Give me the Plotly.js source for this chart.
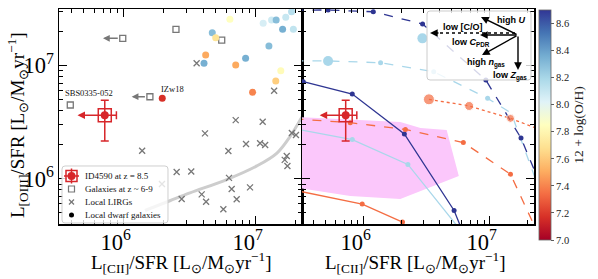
<!DOCTYPE html>
<html><head><meta charset="utf-8">
<script src="https://cdn.plot.ly/plotly-3.0.1.min.js"></script>
<style>html,body{margin:0;padding:0;background:#fff}#chart{width:598px;height:279px}</style>
</head><body><div id="chart"></div>
<script>
// ---------------- data ----------------
// Local LIRGs
const lirgX = [3.57e6,1.38e7,7.06e6,1.13e7,4.13e6,1.88e7,2.02e7,1.38e6,8.45e6,1.08e7,1.18e7,6.21e6,1.72e7,1.66e7,1.74e7,2.52e6,3.25e6,6.28e6,1.95e6,6.58e6,9.06e6,3.90e6,2.75e6,7.18e6,4.21e6,5.69e6];
const lirgY = [1.05e7,6.0e6,3.30e6,3.19e6,2.52e6,2.54e6,2.44e6,1.77e6,2.03e6,2.06e6,1.99e6,1.76e6,1.59e6,1.47e6,1.30e6,1.15e6,1.16e6,1.02e6,9.0e5,8.13e5,8.41e5,7.29e5,6.64e5,6.59e5,6.28e5,5.38e5];
// Local dwarf galaxies (last one = IZw18)
const dwarfX  = [6.38e6,4.69e6,4.98e6,4.18e6,4.06e6,1.14e7,1.32e7,1.43e7,1.69e7,1.87e7,1.60e7,1.93e7,1.26e7,8.39e6,7.06e6,1.55e7,1.42e7,9.48e6,1.96e6];
const dwarfY  = [2.57e7,1.95e7,1.76e7,1.24e7,1.05e7,2.37e7,2.53e7,2.53e7,2.67e7,2.99e7,2.09e7,2.09e7,1.49e7,1.16e7,1.01e7,9.02e6,7.31e6,5.81e6,5.14e6];
const dwarfOH = [7.85,8.30,7.70,7.50,8.35,8.05,8.08,8.30,8.10,8.15,8.35,8.12,8.30,8.35,7.50,7.83,7.62,7.40,7.17];
// Galaxies at z ~ 6-9 (limTip = upper limit on x, arrow tip)
const hzX = [9.84e5,2.49e6,1.58e6,3.94e5,5.53e6];
const hzY = [1.74e7,2.09e7,5.31e6,4.49e6,1.68e7];
const hzLimTip = [6.97e5,null,1.15e6,null,null];
// ID4590
const idX = [7.19e5], idY = [3.65e6];
const idXerrPlus = [1.62e5];
const idYerrPlus = [1.30e6], idYerrMinus = [1.49e6];
const idXlimTip = [4.47e5];
// grey curve (left panel)
const curveX = [1.45e6,2.24e6,3.18e6,6.17e6,1.02e7,1.45e7,1.82e7,2.24e7];
const curveY = [5.25e5,6.40e5,7.50e5,9.96e5,1.30e6,1.69e6,2.36e6,3.52e6];
// model tracks (right panel)
const dbSolidX = [3.31e5,8.11e5,2.10e6,5.21e6,6.11e6];
const dbSolidY = [7.21e6,5.61e6,2.49e6,5.25e5,3.39e5];
const lbSolidX = [2.82e5,8.11e5,2.24e6,6.11e6];
const lbSolidY = [2.77e6,2.22e6,1.34e6,3.32e5];
const orSolidX = [2.82e5,9.72e5,2.03e6];
const orSolidY = [7.93e5,5.98e5,4.15e5];
const dbDashX = [2.82e5,5.21e5,1.19e6,2.93e6,9.31e6,1.77e7,2.29e7,2.56e7];
const dbDashY = [3.09e7,3.10e7,2.99e7,2.33e7,7.46e6,2.29e6,1.15e6,7.96e5];
const lbDashX = [2.82e5,5.21e5,1.36e6,3.59e6,9.62e6,1.48e7,2.13e7,2.47e7];
const lbDashY = [1.10e7,1.10e7,1.06e7,8.83e6,5.14e6,3.81e6,1.27e6,7.96e5];
const orDashX = [2.82e5,7.81e5,2.14e6,6.17e6,1.46e7,2.21e7,2.38e7];
const orDashY = [3.39e6,3.13e6,2.73e6,2.09e6,1.10e6,4.15e5,3.39e5];
const orDotX = [3.29e6,6.86e6,1.46e7,2.38e7];
const orDotY = [5.04e6,4.40e6,3.42e6,2.78e6];
const lbBigX = [5.21e5,2.92e6];
const lbBigY = [1.10e7,1.74e7];
// marked vertices
const dbSolidMk=[0,1,2,3,4], lbSolidMk=[1,2,3], orSolidMk=[1,2];
const dbDashMk=[1,2,3,4,5], lbDashMk=[2,3,4], orDashMk=[1,2,3,4], orDotMk=[0,1,2];
// shaded region
const pinkX = [3.0e5,9.40e5,1.95e6,2.82e6,4.55e6,5.68e6,1.95e6,7.81e5,3.0e5];
const pinkY = [3.52e6,3.30e6,3.18e6,2.81e6,2.70e6,1.06e6,6.64e5,7.05e5,8.30e5];
// colorbar ticks
const cbTicks = [7.0,7.2,7.4,7.6,7.8,8.0,8.2,8.4,8.6];
const legendLabels = ['ID4590 at z = 8.5','Galaxies at z ~ 6-9','Local LIRGs','Local dwarf galaxies'];

// ---------------- styling ----------------
const SERIF = 'Liberation Serif, Times New Roman, serif';
const SANS = 'Liberation Sans, Arial, sans-serif';
const RED = '#d7262a';
const DB = '#2e3592', LB = '#a9d7ea', OR = '#f46d43';
const RdYlBu = [[0,'#a50026'],[0.1,'#d73027'],[0.2,'#f46d43'],[0.3,'#fdae61'],[0.4,'#fee090'],[0.5,'#ffffbf'],[0.6,'#e0f3f8'],[0.7,'#abd9e9'],[0.8,'#74add1'],[0.9,'#4575b4'],[1,'#313695']];
const L=59,R=534,T=9,B=224;
const px2p=(x,y)=>[(x-L)/(R-L),(B-y)/(B-T)];
const pick=(arr,idx)=>idx.map(i=>arr[i]);

const traces=[];
traces.push({x:curveX,y:curveY,mode:'lines',line:{color:'#cdcdcd',width:3,shape:'spline',smoothing:1},xaxis:'x',yaxis:'y'});
traces.push({x:lirgX,y:lirgY,mode:'markers',marker:{symbol:'x-thin',size:6,line:{color:'#777',width:1.3}},xaxis:'x',yaxis:'y'});
traces.push({x:hzX,y:hzY,mode:'markers',marker:{symbol:'square',size:6,color:'white',line:{color:'#777',width:1.3}},xaxis:'x',yaxis:'y'});
traces.push({x:dwarfX,y:dwarfY,mode:'markers',xaxis:'x',yaxis:'y',
  marker:{size:7,color:dwarfOH,colorscale:RdYlBu,cmin:7.0,cmax:8.7,line:{width:0},showscale:true,
    colorbar:{x:(539-L)/(R-L),xanchor:'left',y:(B-10)/(B-T),yanchor:'top',len:230,lenmode:'pixels',thickness:12,
      xpad:0,ypad:0,outlinewidth:0.8,outlinecolor:'#666',ticks:'outside',ticklen:3,tickwidth:0.8,tickcolor:'#333',
      tickmode:'array',tickvals:cbTicks,ticktext:cbTicks.map(v=>v.toFixed(1)),tickfont:{family:SERIF,size:10.5,color:'#222'},
      title:{text:'12 + log(O/H)',side:'right',font:{family:SERIF,size:13.5,color:'#222'}}}}});
function idTraces(xa,ya){
  return [
    {x:idX,y:idY,mode:'markers',xaxis:xa,yaxis:ya,marker:{symbol:'circle',size:8,color:RED},
     error_x:{type:'data',symmetric:false,array:idXerrPlus,arrayminus:[0],color:RED,thickness:1.5,width:4},
     error_y:{type:'data',symmetric:false,array:idYerrPlus,arrayminus:idYerrMinus,color:RED,thickness:1.5,width:4}},
    {x:idX,y:idY,mode:'markers',xaxis:xa,yaxis:ya,marker:{symbol:'square-open',size:13,color:RED,line:{width:1.5,color:RED}}}
  ];
}
traces.push(...idTraces('x','y'));
// right panel
traces.push({x:pinkX,y:pinkY,mode:'lines',fill:'toself',fillcolor:'#fbc7fb',line:{width:0},xaxis:'x2',yaxis:'y2'});
function track(xs,ys,mk,color,dash,msize){
  traces.push({x:xs,y:ys,mode:'lines',line:{color:color,width:1.3,dash:dash},xaxis:'x2',yaxis:'y2'});
  traces.push({x:pick(xs,mk),y:pick(ys,mk),mode:'markers',marker:{color:color,size:msize},xaxis:'x2',yaxis:'y2'});
}
track(orSolidX,orSolidY,orSolidMk,OR,'solid',5);
track(lbSolidX,lbSolidY,lbSolidMk,LB,'solid',5);
track(dbSolidX,dbSolidY,dbSolidMk,DB,'solid',5);
track(orDashX,orDashY,orDashMk,OR,'dash',5);
track(lbDashX,lbDashY,lbDashMk,LB,'dash',5);
track(dbDashX,dbDashY,dbDashMk,DB,'dash',5);
traces.push({x:orDotX,y:orDotY,mode:'lines',line:{color:OR,width:1.3,dash:'dot'},xaxis:'x2',yaxis:'y2'});
traces.push({x:pick(orDotX,orDotMk),y:pick(orDotY,orDotMk),mode:'markers',marker:{color:OR,size:[11,9,8]},xaxis:'x2',yaxis:'y2'});
traces.push({x:lbBigX,y:lbBigY,mode:'markers',marker:{color:LB,size:10},xaxis:'x2',yaxis:'y2'});
traces.push(...idTraces('x2','y2'));
traces.forEach(t=>{t.showlegend=false;t.hoverinfo='skip';});

// axes
const xr=[5.51,7.351], yr=[5.601,7.50];
const split=(302-L)/(R-L);
function ax(extra){
  return Object.assign({type:'log',range:null,showgrid:false,zeroline:false,showline:true,linewidth:1.5,linecolor:'#000',mirror:'ticks',
    ticks:'inside',ticklen:8,tickwidth:1.2,tickcolor:'#000',dtick:1,exponentformat:'power',
    tickfont:{family:SERIF,size:18,color:'#000'},
    minor:{dtick:'D1',ticks:'inside',ticklen:4,tickwidth:1,tickcolor:'#000'}},extra);
}
const shapes=[], ann=[];
function rrect(x0,y0,x1,y1,r){
  const P=(x,y)=>{const q=px2p(x,y);return q[0].toFixed(5)+','+q[1].toFixed(5);};
  return 'M'+P(x0+r,y0)+'L'+P(x1-r,y0)+'Q'+P(x1,y0)+' '+P(x1,y0+r)+'L'+P(x1,y1-r)+'Q'+P(x1,y1)+' '+P(x1-r,y1)+
    'L'+P(x0+r,y1)+'Q'+P(x0,y1)+' '+P(x0,y1-r)+'L'+P(x0,y0+r)+'Q'+P(x0,y0)+' '+P(x0+r,y0)+'Z';
}
function pline(x0,y0,x1,y1,color,w,dash){
  const a=px2p(x0,y0),b=px2p(x1,y1);
  shapes.push({type:'line',xref:'paper',yref:'paper',x0:a[0],y0:a[1],x1:b[0],y1:b[1],layer:'above',line:{color:color,width:w,dash:dash||'solid'}});
}
function pbox(type,cx,cy,hw,hh,fill,lc,lw){
  const a=px2p(cx-hw,cy-hh),b=px2p(cx+hw,cy+hh);
  shapes.push({type:type,xref:'paper',yref:'paper',x0:a[0],y0:a[1],x1:b[0],y1:b[1],layer:'above',fillcolor:fill,line:{color:lc,width:lw}});
}
// left legend
shapes.push({type:'path',xref:'paper',yref:'paper',path:rrect(62,166,168,223,3),layer:'above',fillcolor:'rgba(255,255,255,0.8)',line:{color:'#cfcfcf',width:1}});
const rows=[176,189,202,215], sx=71.5;
pline(sx-7.5,rows[0],sx+7.5,rows[0],RED,1.5);
pline(sx,rows[0]-7.5,sx,rows[0]+7.5,RED,1.5);
pbox('rect',sx,rows[0],5.5,5.5,'rgba(0,0,0,0)',RED,1.5);
pbox('circle',sx,rows[0],4,4,RED,RED,0);
pbox('rect',sx,rows[1],3,3,'white','#777',1.2);
pline(sx-2.5,rows[2]-2.5,sx+2.5,rows[2]+2.5,'#777',1.2);
pline(sx-2.5,rows[2]+2.5,sx+2.5,rows[2]-2.5,'#777',1.2);
pbox('circle',sx,rows[3],2.5,2.5,'#000','#000',0);
legendLabels.forEach((t,i)=>{const p=px2p(83,rows[i]);
  ann.push({xref:'paper',yref:'paper',x:p[0],y:p[1],xanchor:'left',yanchor:'middle',text:t,showarrow:false,font:{family:SERIF,size:9,color:'#111'}});});
// inset box (right panel)
shapes.push({type:'path',xref:'paper',yref:'paper',path:rrect(427,11,531,80,3),layer:'above',fillcolor:'rgba(255,255,255,0.8)',line:{color:'#cccccc',width:1}});
pline(440,33,518,33,'#000',1.3,'dot');
function parrow(tx,ty,fx,fy){const p=px2p(tx,ty);
  ann.push({xref:'paper',yref:'paper',x:p[0],y:p[1],ax:fx-tx,ay:fy-ty,text:'',showarrow:true,arrowhead:2,arrowsize:1.1,arrowwidth:1.4,arrowcolor:'#000'});}
parrow(481,17,518,35);
parrow(430,33,440,33);
parrow(480,35,518,35);
parrow(482,55,518,35);
parrow(518,70,518,35);
function ptext(t,x,y){const p=px2p(x,y);ann.push({xref:'paper',yref:'paper',x:p[0],y:p[1],text:t,showarrow:false,xanchor:'center',yanchor:'middle',font:{family:SANS,size:9,color:'#000'}});}
ptext('<b>high <i>U</i></b>',511,20);
ptext('<b>low [C/O]</b>',463,27);
ptext('<b>low <i>C</i><sub>PDR</sub></b>',471,43);
ptext('<b>high <i>n</i><sub>gas</sub></b>',486,63);
ptext('<b>low <i>Z</i><sub>gas</sub></b>',510,76);
// data arrows (upper limits)
function darrow(xa,ya,tipx,fromx,y,color,size,sso){
  ann.push({xref:xa,yref:ya,axref:xa,ayref:ya,x:Math.log10(tipx),y:Math.log10(y),ax:Math.log10(fromx),ay:Math.log10(y),text:'',showarrow:true,
    arrowhead:2,arrowsize:size,arrowwidth:1.5,arrowcolor:color,startstandoff:sso});
}
darrow('x','y',idXlimTip[0],idX[0],idY[0],RED,1.0,0);
darrow('x2','y2',idXlimTip[0],idX[0],idY[0],RED,1.0,0);
hzLimTip.forEach((t,i)=>{if(t!==null) darrow('x','y',t,hzX[i],hzY[i],'#777',0.9,3.5);});
// point labels
ann.push({xref:'x',yref:'y',x:Math.log10(dwarfX[18])+0.075,y:Math.log10(dwarfY[18])+0.08,text:'IZw18',showarrow:false,font:{family:SERIF,size:8.5,color:'#111'}});
ann.push({xref:'x',yref:'y',x:Math.log10(hzX[3])+0.14,y:Math.log10(hzY[3])+0.105,text:'SBS0335-052',showarrow:false,font:{family:SERIF,size:8.5,color:'#111'}});
// axis titles
const xt='L<sub>[CII]</sub>/SFR [L<sub>⊙</sub>/M<sub>⊙</sub>yr<sup>−1</sup>]';
const yt='L<sub>[OIII]</sub>/SFR [L<sub>⊙</sub>/M<sub>⊙</sub>yr<sup>−1</sup>]';
let p=px2p(181,262); ann.push({xref:'paper',yref:'paper',x:p[0],y:p[1],text:xt,showarrow:false,xanchor:'center',yanchor:'middle',font:{family:SERIF,size:19,color:'#000'}});
p=px2p(415,262); ann.push({xref:'paper',yref:'paper',x:p[0],y:p[1],text:xt,showarrow:false,xanchor:'center',yanchor:'middle',font:{family:SERIF,size:19,color:'#000'}});
p=px2p(18,125); ann.push({xref:'paper',yref:'paper',x:p[0],y:p[1],text:yt,textangle:-90,showarrow:false,xanchor:'center',yanchor:'middle',font:{family:SERIF,size:19,color:'#000'}});

const layout={width:598,height:279,margin:{l:L,r:598-R,t:T,b:279-B,autoexpand:false},paper_bgcolor:'#fff',plot_bgcolor:'#fff',showlegend:false,
  xaxis:ax({range:xr,domain:[0,split],anchor:'y',ticklabelshift:-8,ticklabelstandoff:-2}),
  xaxis2:ax({range:xr,domain:[split,1],anchor:'y2',ticklabelshift:-8,ticklabelstandoff:-2}),
  yaxis:ax({range:yr,domain:[0,1],anchor:'x'}),
  yaxis2:ax({range:yr,domain:[0,1],anchor:'x2',showticklabels:false}),
  shapes:shapes,annotations:ann};
Plotly.newPlot('chart',traces,layout,{displayModeBar:false,staticPlot:true});
</script></body></html>
